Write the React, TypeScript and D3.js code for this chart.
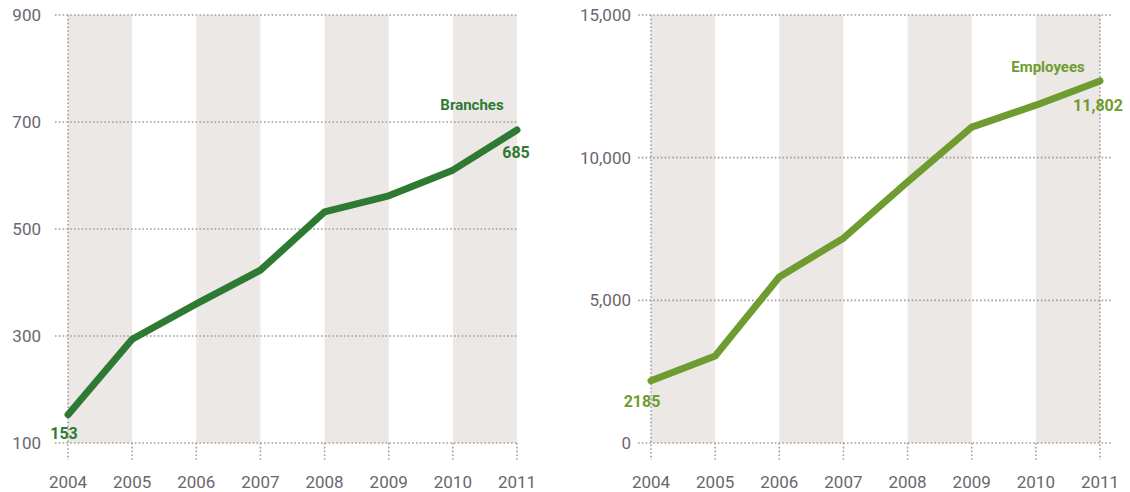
import React from "react";
import * as d3 from "d3";

const years = [2004, 2005, 2006, 2007, 2008, 2009, 2010, 2011];
const branches = [153, 294, 360, 423, 532, 562, 610, 685];
const employees = [2185, 3050, 5820, 7180, 9150, 11070, 11840, 12690];
const branchTicks = [100, 300, 500, 700, 900];
const employeeTicks = [0, 5000, 10000, 15000];
const branchLabels = { name: "Branches", first: "153", last: "685" };
const employeeLabels = { name: "Employees", first: "2185", last: "11,802" };

const BAND = "#ece8e5";
const GRID = "#a39d9d";
const TEXT = "#6a6670";
const DARK = "#2e7a33";
const LIGHT = "#6f9c30";
const FONT = "Roboto, 'Open Sans', sans-serif";

type PanelProps = {
  values: number[];
  ticks: number[];
  domain: [number, number];
  xRange: [number, number];
  gridStart: number;
  gridEnd: number;
  labelX: number;
  color: string;
  fmt: (v: number) => string;
  rightLine: boolean;
  labels: { name: string; first: string; last: string };
  nameOffset: [number, number];
  lastOffset: [number, number];
  firstOffset: [number, number];
};

function Panel(p: PanelProps) {
  const x = d3.scaleLinear().domain([2004, 2011]).range(p.xRange);
  const y = d3.scaleLinear().domain(p.domain).range([443, 15]);
  const step = x(2005) - x(2004);
  const line = d3
    .line<number>()
    .x((_, i) => x(years[i]))
    .y((v) => y(v));
  const bandStarts = years.filter((_, i) => i % 2 === 0);
  const yBottom = y(p.domain[0]);
  const yTop = y(p.domain[1]);
  const lastX = x(years[years.length - 1]);
  const lastY = y(p.values[p.values.length - 1]);
  const firstX = x(years[0]);
  const firstY = y(p.values[0]);
  return (
    <g>
      {bandStarts.map((yr) => (
        <rect
          key={yr}
          x={x(yr)}
          y={yTop}
          width={step}
          height={yBottom - yTop}
          fill={BAND}
        />
      ))}
      {p.ticks.map((t) => (
        <g key={t}>
          <line
            x1={p.gridStart}
            x2={p.gridEnd}
            y1={y(t)}
            y2={y(t)}
            stroke={GRID}
            strokeWidth={1.6}
            strokeDasharray="1.6,2.2"
          />
          <text
            x={p.labelX}
            y={y(t) + 6}
            textAnchor="end"
            fontFamily={FONT}
            fontSize={17}
            fill={TEXT}
          >
            {p.fmt(t)}
          </text>
        </g>
      ))}
      {years.map((yr, i) => {
        const full = i === 0 || (p.rightLine && i === years.length - 1);
        return (
          <g key={yr}>
            <line
              x1={x(yr)}
              x2={x(yr)}
              y1={full ? yTop : yBottom}
              y2={yBottom + 17}
              stroke={GRID}
              strokeWidth={1.6}
              strokeDasharray="1.6,2.2"
            />
            <text
              x={x(yr)}
              y={488}
              textAnchor="middle"
              fontFamily={FONT}
              fontSize={17}
              fill={TEXT}
            >
              {yr}
            </text>
          </g>
        );
      })}
      <path
        d={line(p.values) || ""}
        fill="none"
        stroke={p.color}
        strokeWidth={7}
        strokeLinecap="round"
        strokeLinejoin="round"
      />
      <text
        x={lastX + p.nameOffset[0]}
        y={lastY + p.nameOffset[1]}
        textAnchor="middle"
        fontFamily={FONT}
        fontWeight="bold"
        fontSize={15}
        fill={p.color}
      >
        {p.labels.name}
      </text>
      <text
        x={lastX + p.lastOffset[0]}
        y={lastY + p.lastOffset[1]}
        textAnchor="middle"
        fontFamily={FONT}
        fontWeight="bold"
        fontSize={16}
        fill={p.color}
      >
        {p.labels.last}
      </text>
      <text
        x={firstX + p.firstOffset[0]}
        y={firstY + p.firstOffset[1]}
        textAnchor="middle"
        fontFamily={FONT}
        fontWeight="bold"
        fontSize={16}
        fill={p.color}
      >
        {p.labels.first}
      </text>
    </g>
  );
}

export default function App() {
  const fmtComma = d3.format(",");
  return (
    <svg
      width={1130}
      height={492}
      style={{ position: "absolute", left: 0, top: 0, background: "#fff" }}
    >
      <Panel
        values={branches}
        ticks={branchTicks}
        domain={[100, 900]}
        xRange={[68, 517]}
        gridStart={55}
        gridEnd={518}
        labelX={41}
        color={DARK}
        fmt={(v) => String(v)}
        rightLine={false}
        labels={branchLabels}
        nameOffset={[-45, -20]}
        lastOffset={[-1, 28]}
        firstOffset={[-4, 24]}
      />
      <Panel
        values={employees}
        ticks={employeeTicks}
        domain={[0, 15000]}
        xRange={[651, 1100]}
        gridStart={638}
        gridEnd={1111}
        labelX={631}
        color={LIGHT}
        fmt={(v) => fmtComma(v)}
        rightLine={true}
        labels={employeeLabels}
        nameOffset={[-52, -9]}
        lastOffset={[-2, 30]}
        firstOffset={[-9, 26]}
      />
    </svg>
  );
}
